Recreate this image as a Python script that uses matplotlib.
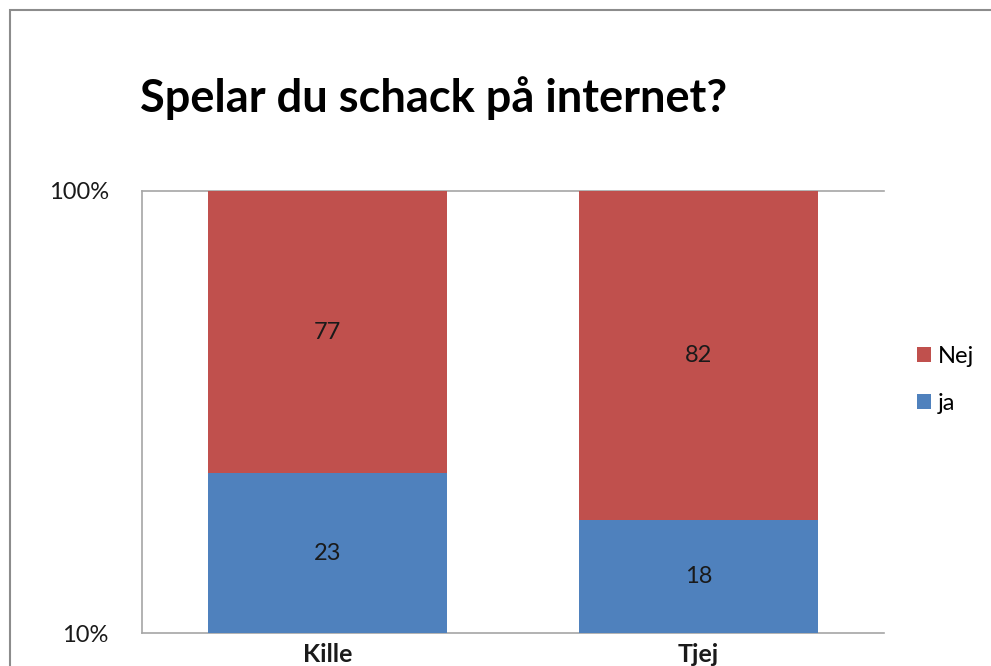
import matplotlib.patches as patches
import matplotlib.pyplot as plt
import numpy as np

plt.rcParams['font.family'] = ['Lato', 'DejaVu Sans']

categories = ["Kille", "Tjej"]
ja = [23, 18]
nej = [77, 82]
series_names = ["ja", "Nej"]
title = "Spelar du schack på internet?"

BLUE = "#4F81BD"
RED = "#C0504D"
GRID = "#A6A6A6"

fig = plt.figure(figsize=(9.91, 6.66), dpi=100)
ax = fig.add_axes([142 / 991, 33 / 666, 742 / 991, 442 / 666])

ja = np.array(ja, dtype=float)
nej = np.array(nej, dtype=float)
total = ja + nej
ja_pct = ja / total * 100
top_pct = (ja + nej) / total * 100

ymin, ymax = 10, 100
ax.set_yscale('log')
ax.set_ylim(ymin, ymax)
ax.set_xlim(-0.5, len(categories) - 0.5)

x = np.arange(len(categories))
width = 0.644
b_ja = ax.bar(x, ja_pct - ymin, bottom=ymin, width=width, color=BLUE, zorder=3, label=series_names[0])
b_nej = ax.bar(x, top_pct - ja_pct, bottom=ja_pct, width=width, color=RED, zorder=3, label=series_names[1])

# data labels in the middle of each segment (log scale)
for xi, mid, hi, v1, v2 in zip(x, ja_pct, top_pct, ja, nej):
    ax.text(xi, np.sqrt(ymin * mid), f"{v1:.0f}", ha='center', va='center', fontsize=17, color='#1a1a1a', zorder=4)
    ax.text(xi, np.sqrt(mid * hi), f"{v2:.0f}", ha='center', va='center', fontsize=17, color='#1a1a1a', zorder=4)

ax.set_yticks([10, 100])
ax.set_yticklabels(["10%", "100%"])
ax.yaxis.set_minor_locator(plt.NullLocator())
ax.set_xticks(x)
ax.set_xticklabels(categories, fontweight='bold')
ax.tick_params(axis='y', length=0, pad=24, labelsize=17, labelcolor='#1a1a1a')
ax.tick_params(axis='x', length=0, pad=7, labelsize=18, labelcolor='#1a1a1a')

for side in ['left', 'top', 'bottom']:
    ax.spines[side].set_color(GRID)
    ax.spines[side].set_linewidth(1.2)
ax.spines['right'].set_visible(False)

leg = ax.legend(handles=[b_nej, b_ja], loc='center left', bbox_to_anchor=(1.028, 0.572),
                frameon=False, fontsize=17, handlelength=0.6, handleheight=0.6,
                handletextpad=0.3, labelspacing=1.1, borderpad=0)

fig.text(140 / 991, (666 - 112) / 666, title, fontsize=32.5, fontweight='bold',
         ha='left', va='baseline', color='black')

# outer chart frame (cropped at right and bottom)
frame = patches.Rectangle((9.5 / 991, -0.2), 1.2, (666 - 9.5) / 666 + 0.2,
                          transform=fig.transFigure, fill=False, edgecolor='#8C8C8C',
                          linewidth=1.5, clip_on=False)
fig.patches.append(frame)

fig.savefig("out.png", dpi=100)
